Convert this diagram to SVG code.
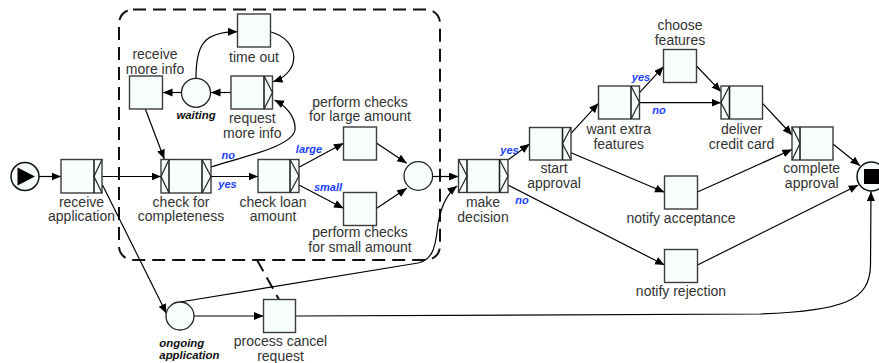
<svg xmlns="http://www.w3.org/2000/svg" width="879" height="363" viewBox="0 0 879 363">
  <defs>
    <marker id="arrow" markerUnits="userSpaceOnUse" markerWidth="10" markerHeight="9" refX="9.5" refY="4" orient="auto">
      <path d="M0,0 L9.5,4 L0,8 z" fill="#000"/>
    </marker>
    <style>
      .task { fill: #f7fcfd; stroke: #3c3c3c; stroke-width: 1.4; }
      .deco { fill: none; stroke: #222; stroke-width: 1.2; }
      .div { stroke: #222; stroke-width: 1.6; }
      .cond { fill: #f7fcfd; stroke: #222; stroke-width: 1.3; }
      .edge { fill: none; stroke: #000; stroke-width: 1.2; marker-end: url(#arrow); }
      .lbl { font-family: "Liberation Sans", Arial, sans-serif; font-size: 14px; fill: #333; text-anchor: middle; }
      .cnd { font-family: "Liberation Sans", Arial, sans-serif; font-size: 11.4px; font-weight: bold; font-style: italic; fill: #111; }
      .br { font-family: "Liberation Sans", Arial, sans-serif; font-size: 11px; font-weight: bold; font-style: italic; fill: #2040ff; text-anchor: middle; }
      .dash { fill: none; stroke: #111; stroke-width: 2; stroke-dasharray: 13 7; }
    </style>
  </defs>

  <!-- cancellation region of "process cancel request" -->
  <g id="cancel-region">
    <rect class="dash" x="119" y="9.5" width="321" height="250.5" rx="14" ry="14"/>
    <line class="dash" x1="257" y1="260" x2="279" y2="299.5" stroke-dasharray="9 6"/>
  </g>

  <!-- connectors -->
  <g id="connectors">
    <line class="edge" x1="39" y1="176.5" x2="61" y2="176.5"/>
    <line class="edge" x1="102" y1="176.5" x2="161" y2="176.5"/>
    <line class="edge" x1="102.5" y1="185" x2="166.5" y2="313.5"/>
    <line class="edge" x1="145.3" y1="109" x2="164.3" y2="159"/>
    <line class="edge" x1="211" y1="176.5" x2="258" y2="176.5"/>
    <path class="edge" d="M211,167 C250,155 292,146 295,130 C296,117 286,106 274.5,100"/>
    <line class="edge" x1="231" y1="92.5" x2="211" y2="92.5"/>
    <line class="edge" x1="181.5" y1="92.5" x2="163" y2="92.5"/>
    <path class="edge" d="M196,78 C196,45 203,32 237.5,31.7"/>
    <path class="edge" d="M271,32 C300,40 302,72 273,81.8"/>
    <line class="edge" x1="299" y1="167.3" x2="343.5" y2="143.3"/>
    <line class="edge" x1="299" y1="185" x2="343.5" y2="208.3"/>
    <line class="edge" x1="376.7" y1="143.3" x2="406.7" y2="163.3"/>
    <line class="edge" x1="376.7" y1="208.3" x2="406.7" y2="188.3"/>
    <line class="edge" x1="432.5" y1="176.5" x2="458.5" y2="176.5"/>
    <path class="edge" d="M180,302 L418,263 C432,260 435,248 437,232 C439,212 444,196 457,186"/>
    <line class="edge" x1="194" y1="316" x2="263.5" y2="316"/>
    <path class="edge" d="M295.5,316 L760,314 C845,311 870,300 870.5,265 L871,191.5"/>
    <line class="edge" x1="508" y1="160" x2="529.5" y2="144"/>
    <line class="edge" x1="508" y1="185" x2="664.5" y2="265"/>
    <line class="edge" x1="571" y1="133.3" x2="598.5" y2="103.3"/>
    <line class="edge" x1="571" y1="152.7" x2="664.5" y2="192.3"/>
    <line class="edge" x1="639.5" y1="92.7" x2="663.5" y2="66.7"/>
    <line class="edge" x1="639.5" y1="102.7" x2="721" y2="102.7"/>
    <line class="edge" x1="696.5" y1="66" x2="721" y2="91.7"/>
    <line class="edge" x1="762.5" y1="103.3" x2="792" y2="135"/>
    <line class="edge" x1="697.5" y1="192" x2="792" y2="149.5"/>
    <line class="edge" x1="833" y1="144" x2="860" y2="165.7"/>
    <line class="edge" x1="697.5" y1="265" x2="858.3" y2="185"/>
  </g>

  <!-- branch labels -->
  <g id="branch-labels">
    <text class="br" x="228.3" y="159.3">no</text>
    <text class="br" x="227.5" y="187.5">yes</text>
    <text class="br" x="309" y="153">large</text>
    <text class="br" x="328" y="191.3">small</text>
    <text class="br" x="509.5" y="154">yes</text>
    <text class="br" x="522" y="204">no</text>
    <text class="br" x="641" y="80.5">yes</text>
    <text class="br" x="659" y="114.3">no</text>
  </g>

  <!-- input condition -->
  <g id="start">
    <circle cx="25" cy="176.5" r="14" fill="#f7fcfd" stroke="#111" stroke-width="1.5"/>
    <polygon points="17.5,167.5 35,176.5 17.5,185.5" fill="#000"/>
  </g>

  <!-- output condition -->
  <g id="end">
    <circle cx="871.5" cy="176.5" r="14.5" fill="#f7fcfd" stroke="#111" stroke-width="1.5"/>
    <rect x="864" y="169" width="15" height="15" fill="#000"/>
  </g>

  <g id="receive-application">
    <rect class="task" x="61" y="159.5" width="41" height="33.5"/>
    <line class="div" x1="94" y1="159.5" x2="94" y2="193"/>
    <polyline class="deco" points="102,159.5 94,176.5 102,193"/>
    <text class="lbl" x="81.5" y="206.8">receive</text>
    <text class="lbl" x="81.5" y="221.3">application</text>
  </g>

  <g id="check-for-completeness">
    <rect class="task" x="161" y="159.5" width="50" height="33.5"/>
    <line class="div" x1="169" y1="159.5" x2="169" y2="193"/>
    <line class="div" x1="202" y1="159.5" x2="202" y2="193"/>
    <polyline class="deco" points="169,159.5 161,176.5 169,193"/>
    <polyline class="deco" points="202,159.5 211,176.5 202,193"/>
    <text class="lbl" x="181" y="206.8">check for</text>
    <text class="lbl" x="181" y="221.3">completeness</text>
  </g>

  <g id="check-loan-amount">
    <rect class="task" x="258" y="159.5" width="41" height="33"/>
    <line class="div" x1="290" y1="159.5" x2="290" y2="192.5"/>
    <polyline class="deco" points="290,159.5 299,176 290,192.5"/>
    <text class="lbl" x="273" y="206.8">check loan</text>
    <text class="lbl" x="273" y="221.3">amount</text>
  </g>

  <g id="perform-checks-large">
    <rect class="task" x="343.5" y="127" width="33" height="33"/>
    <text class="lbl" x="360" y="106.5">perform checks</text>
    <text class="lbl" x="360" y="121">for large amount</text>
  </g>

  <g id="perform-checks-small">
    <rect class="task" x="343.5" y="192.5" width="33" height="33"/>
    <text class="lbl" x="360" y="237">perform checks</text>
    <text class="lbl" x="360" y="251.5">for small amount</text>
  </g>

  <g id="merge">
    <circle class="cond" cx="418.3" cy="176" r="14.3"/>
  </g>

  <g id="receive-more-info">
    <rect class="task" x="129.5" y="76" width="33" height="33"/>
    <text class="lbl" x="155" y="59">receive</text>
    <text class="lbl" x="155" y="73.5">more info</text>
  </g>

  <g id="waiting">
    <circle class="cond" cx="196" cy="92.8" r="14.5"/>
    <text class="cnd" x="196" y="118.5" text-anchor="middle">waiting</text>
  </g>

  <g id="time-out">
    <rect class="task" x="237.5" y="14" width="33" height="33"/>
    <text class="lbl" x="254" y="61.5">time out</text>
  </g>

  <g id="request-more-info">
    <rect class="task" x="231" y="76" width="41.5" height="33"/>
    <line class="div" x1="264" y1="76" x2="264" y2="109"/>
    <polyline class="deco" points="264,76 272.5,92.5 264,109"/>
    <text class="lbl" x="252.3" y="123">request</text>
    <text class="lbl" x="252.3" y="137.5">more info</text>
  </g>

  <g id="ongoing-application">
    <circle class="cond" cx="180" cy="316" r="14"/>
    <text class="cnd" x="159.3" y="346.5">ongoing</text>
    <text class="cnd" x="159.3" y="359">application</text>
  </g>

  <g id="process-cancel-request">
    <rect class="task" x="263.5" y="299.5" width="32" height="33"/>
    <text class="lbl" x="280.5" y="346">process cancel</text>
    <text class="lbl" x="280.5" y="360.5">request</text>
  </g>

  <g id="make-decision">
    <rect class="task" x="458.5" y="159.5" width="49.5" height="33"/>
    <line class="div" x1="467" y1="159.5" x2="467" y2="192.5"/>
    <line class="div" x1="499.5" y1="159.5" x2="499.5" y2="192.5"/>
    <polyline class="deco" points="458.5,159.5 467,176 458.5,192.5"/>
    <polyline class="deco" points="499.5,159.5 508,176 499.5,192.5"/>
    <text class="lbl" x="483" y="207">make</text>
    <text class="lbl" x="483" y="221.5">decision</text>
  </g>

  <g id="start-approval">
    <rect class="task" x="529.5" y="127.5" width="41.5" height="32.5"/>
    <line class="div" x1="562.5" y1="127.5" x2="562.5" y2="160"/>
    <polyline class="deco" points="571,127.5 562.5,143.7 571,160"/>
    <text class="lbl" x="554" y="173">start</text>
    <text class="lbl" x="554" y="187.5">approval</text>
  </g>

  <g id="want-extra-features">
    <rect class="task" x="598.5" y="86" width="41" height="33"/>
    <line class="div" x1="631" y1="86" x2="631" y2="119"/>
    <polyline class="deco" points="631,86 639.5,102.5 631,119"/>
    <text class="lbl" x="618.7" y="134">want extra</text>
    <text class="lbl" x="618.7" y="148.5">features</text>
  </g>

  <g id="choose-features">
    <rect class="task" x="663.5" y="49.5" width="33" height="33"/>
    <text class="lbl" x="680" y="30.2">choose</text>
    <text class="lbl" x="680" y="44.7">features</text>
  </g>

  <g id="deliver-credit-card">
    <rect class="task" x="721" y="86" width="41.5" height="33"/>
    <line class="div" x1="729.5" y1="86" x2="729.5" y2="119"/>
    <polyline class="deco" points="729.5,86 721,102.5 729.5,119"/>
    <text class="lbl" x="741.5" y="134">deliver</text>
    <text class="lbl" x="741.5" y="148.5">credit card</text>
  </g>

  <g id="complete-approval">
    <rect class="task" x="792" y="127" width="41" height="33"/>
    <line class="div" x1="800" y1="127" x2="800" y2="160"/>
    <polyline class="deco" points="792,127 800,143.5 792,160"/>
    <text class="lbl" x="811.7" y="173">complete</text>
    <text class="lbl" x="811.7" y="187.5">approval</text>
  </g>

  <g id="notify-acceptance">
    <rect class="task" x="664.5" y="176" width="33" height="33"/>
    <text class="lbl" x="681" y="223">notify acceptance</text>
  </g>

  <g id="notify-rejection">
    <rect class="task" x="664.5" y="249.5" width="33" height="33"/>
    <text class="lbl" x="681" y="295.5">notify rejection</text>
  </g>
</svg>
